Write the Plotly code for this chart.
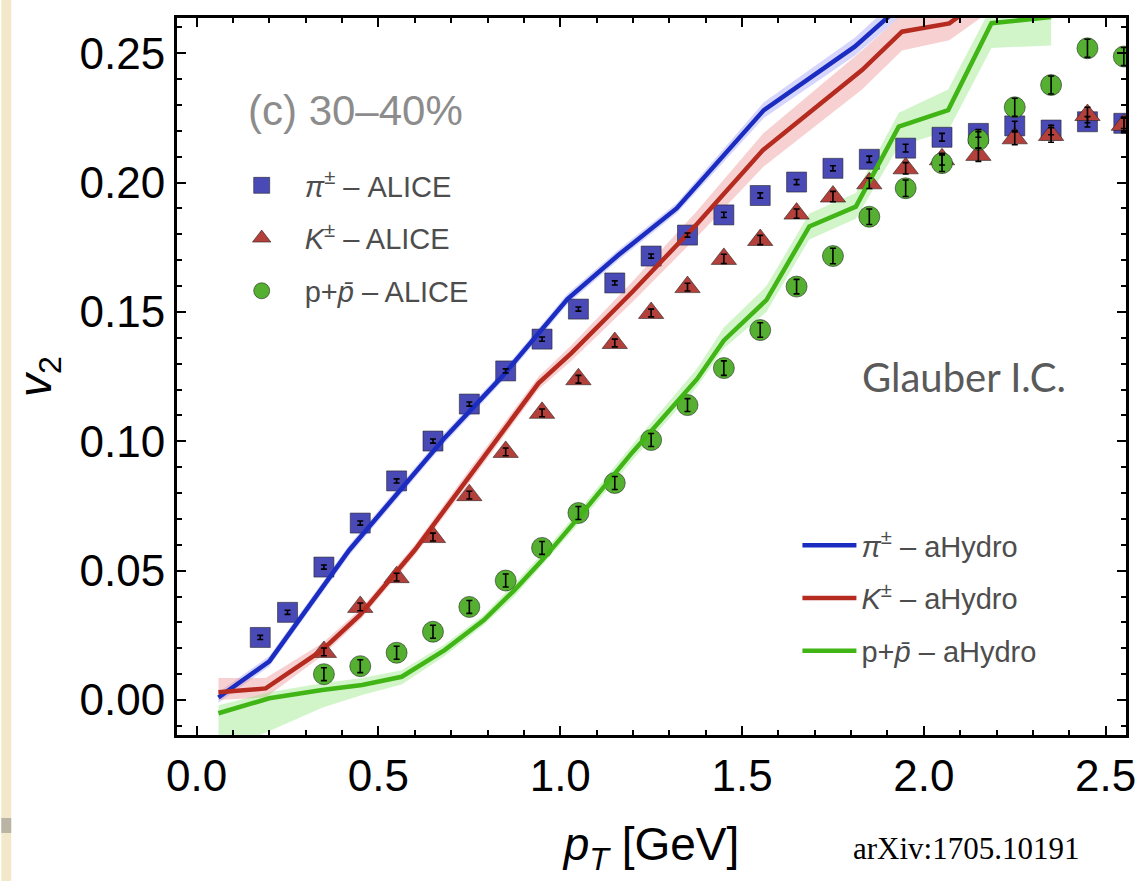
import plotly.graph_objects as go

# ---------------- data ----------------
# ALICE measurements
pt_pi = [0.175, 0.25, 0.35, 0.45, 0.55, 0.65, 0.75, 0.85, 0.95, 1.05, 1.15, 1.25, 1.35,
         1.45, 1.55, 1.65, 1.75, 1.85, 1.95, 2.05, 2.15, 2.25, 2.35, 2.45, 2.55]
v2_pi = [0.0242, 0.0339, 0.0514, 0.0684, 0.0847, 0.1001, 0.1144, 0.1272, 0.1395, 0.1511,
         0.1612, 0.1716, 0.1797, 0.1875, 0.1950, 0.2002, 0.2055, 0.2090, 0.2133, 0.2175,
         0.2190, 0.2219, 0.2203, 0.2235, 0.2229]
err_pi = [0.0008, 0.0008, 0.0008, 0.0008, 0.0008, 0.0008, 0.0008, 0.0008, 0.0008, 0.0008,
          0.0008, 0.0008, 0.0008, 0.0010, 0.0010, 0.0010, 0.0010, 0.0012, 0.0015, 0.0015,
          0.0015, 0.0018, 0.0018, 0.0020, 0.0020]

pt_K = [0.35, 0.45, 0.55, 0.65, 0.75, 0.85, 0.95, 1.05, 1.15, 1.25, 1.35, 1.45, 1.55,
        1.65, 1.75, 1.85, 1.95, 2.05, 2.15, 2.25, 2.35, 2.45, 2.55]
v2_K = [0.0186, 0.0360, 0.0475, 0.0630, 0.0792, 0.0959, 0.1110, 0.1240, 0.1380, 0.1496,
        0.1596, 0.1705, 0.1778, 0.1880, 0.1946, 0.1997, 0.2055, 0.2090, 0.2107, 0.2171,
        0.2184, 0.2261, 0.2223]
err_K = [0.0015, 0.0015, 0.0015, 0.0015, 0.0015, 0.0015, 0.0015, 0.0015, 0.0015, 0.0015,
         0.0015, 0.0018, 0.0018, 0.0018, 0.0020, 0.0020, 0.0022, 0.0022, 0.0025, 0.0025,
         0.0028, 0.0030, 0.0030]

pt_p = [0.35, 0.45, 0.55, 0.65, 0.75, 0.85, 0.95, 1.05, 1.15, 1.25, 1.35, 1.45, 1.55,
        1.65, 1.75, 1.85, 1.95, 2.05, 2.15, 2.25, 2.35, 2.45, 2.55]
v2_p = [0.0100, 0.0131, 0.0183, 0.0264, 0.0360, 0.0462, 0.0588, 0.0723, 0.0839, 0.1005,
        0.1140, 0.1283, 0.1430, 0.1598, 0.1716, 0.1868, 0.1978, 0.2075, 0.2165, 0.2291,
        0.2377, 0.2519, 0.2487]
err_p = [0.0025, 0.0025, 0.0025, 0.0025, 0.0025, 0.0025, 0.0025, 0.0025, 0.0025, 0.0025,
         0.0025, 0.0028, 0.0028, 0.0028, 0.0030, 0.0030, 0.0032, 0.0032, 0.0032, 0.0035,
         0.0035, 0.0035, 0.0035]

# aHydro (Glauber I.C.) curves with uncertainty bands
pt_hyd_pi = [0.06, 0.2, 0.42, 0.68, 0.84, 1.02, 1.16, 1.32, 1.56, 1.81, 1.95]
v2_hyd_pi = [0.001, 0.015, 0.058, 0.101, 0.125, 0.155, 0.172, 0.190, 0.228, 0.2525, 0.270]
lo_hyd_pi = [-0.001, 0.013, 0.056, 0.099, 0.123, 0.153, 0.170, 0.188, 0.225, 0.249, 0.266]
hi_hyd_pi = [0.003, 0.017, 0.060, 0.103, 0.127, 0.157, 0.174, 0.192, 0.231, 0.256, 0.274]

pt_hyd_K = [0.06, 0.19, 0.345, 0.45, 0.60, 0.75, 0.94, 1.03, 1.20, 1.376, 1.558, 1.83, 1.94, 2.07, 2.2]
v2_hyd_K = [0.003, 0.0045, 0.0193, 0.033, 0.058, 0.0865, 0.1224, 0.134, 0.158, 0.184, 0.2126,
            0.2435, 0.2583, 0.2615, 0.275]
lo_hyd_K = [0.000, 0.001, 0.017, 0.031, 0.056, 0.084, 0.120, 0.131, 0.154, 0.179, 0.206,
            0.236, 0.251, 0.255, 0.268]
hi_hyd_K = [0.0085, 0.0085, 0.022, 0.035, 0.060, 0.089, 0.125, 0.137, 0.162, 0.189, 0.219,
            0.251, 0.265, 0.268, 0.282]

pt_hyd_p = [0.06, 0.2, 0.345, 0.455, 0.564, 0.682, 0.79, 0.874, 0.95, 1.05, 1.2, 1.376,
            1.45, 1.567, 1.685, 1.813, 1.931, 2.067, 2.186, 2.35]
v2_hyd_p = [-0.0051, 0.0007, 0.0039, 0.0058, 0.009, 0.0193, 0.0309, 0.0425, 0.054, 0.0705,
            0.096, 0.124, 0.139, 0.1546, 0.183, 0.1907, 0.2216, 0.228, 0.2616, 0.2640]
lo_hyd_p = [-0.020, -0.012, -0.003, 0.002, 0.006, 0.017, 0.029, 0.040, 0.052, 0.068,
            0.093, 0.121, 0.136, 0.150, 0.178, 0.186, 0.214, 0.220, 0.252, 0.253]
hi_hyd_p = [-0.002, 0.003, 0.0065, 0.0085, 0.0115, 0.0215, 0.033, 0.045, 0.0565, 0.073,
            0.099, 0.128, 0.144, 0.160, 0.188, 0.196, 0.227, 0.236, 0.268, 0.270]

x_ticks = [0.0, 0.5, 1.0, 1.5, 2.0, 2.5]
y_ticks = [0.00, 0.05, 0.10, 0.15, 0.20, 0.25]

# ---------------- styling ----------------
W, H = 1148, 881
L, R, T, B = 177, 1133, 18, 735
FONT = "Liberation Sans, Arial, sans-serif"

def px(xp):
    return (xp - L) / (R - L)

def py(yp):
    return (B - yp) / (B - T)

fig = go.Figure()

# bands
bands = [
    (pt_hyd_pi, lo_hyd_pi, hi_hyd_pi, "rgba(120,120,245,0.30)"),
    (pt_hyd_K, lo_hyd_K, hi_hyd_K, "rgba(235,140,140,0.40)"),
    (pt_hyd_p, lo_hyd_p, hi_hyd_p, "rgba(140,230,120,0.40)"),
]
for xs, lo, hi, col in bands:
    fig.add_trace(go.Scatter(x=xs + xs[::-1], y=hi + lo[::-1], fill="toself",
                             fillcolor=col, line=dict(width=0), mode="lines",
                             showlegend=False, hoverinfo="skip"))

# ALICE markers
markers = [
    (pt_pi, v2_pi, err_pi, "square", "#4a4ab6", 20, "<i>π</i><sup>±</sup> – ALICE", "a1"),
    (pt_K, v2_K, err_K, "triangle-up", "#b3403a", 22, "<i>K</i><sup>±</sup> – ALICE", "a2"),
    (pt_p, v2_p, err_p, "circle", "#55b032", 21, "p+<i>p̄</i> – ALICE", "a3"),
]
for xs, ys, es, sym, col, size, name, grp in markers:
    fig.add_trace(go.Scatter(x=xs, y=ys, mode="markers", name=name, legend="legend",
                             legendgroup=grp,
                             marker=dict(symbol=sym, color=col, size=size,
                                         line=dict(color="rgba(30,30,30,0.55)", width=1)),
                             cliponaxis=True))

# aHydro lines
lines = [
    (pt_hyd_pi, v2_hyd_pi, "#1b2cc0", "<i>π</i><sup>±</sup> – aHydro", "h1"),
    (pt_hyd_K, v2_hyd_K, "#b52b20", "<i>K</i><sup>±</sup> – aHydro", "h2"),
    (pt_hyd_p, v2_hyd_p, "#41b515", "p+<i>p̄</i> – aHydro", "h3"),
]
for xs, ys, col, name, grp in lines:
    fig.add_trace(go.Scatter(x=xs, y=ys, mode="lines", name=name, legend="legend2",
                             legendgroup=grp, line=dict(color=col, width=4.5)))

# error bars drawn above the markers
for xs, ys, es, sym, col, size, name, grp in markers:
    fig.add_trace(go.Scatter(x=xs, y=ys, mode="markers", showlegend=False,
                             marker=dict(size=1, opacity=0),
                             error_y=dict(type="data", array=es, color="black",
                                          thickness=1.6, width=3),
                             hoverinfo="skip"))

axis_common = dict(showline=True, linecolor="black", linewidth=3, mirror="ticks",
                   ticks="inside", ticklen=9, tickwidth=2, tickcolor="black",
                   showgrid=False, zeroline=False,
                   tickfont=dict(family=FONT, size=44, color="black"))

fig.update_layout(
    width=W, height=H,
    margin=dict(l=L, r=W - R, t=T, b=H - B),
    plot_bgcolor="white", paper_bgcolor="white",
    xaxis=dict(range=[-0.054, 2.556], tickvals=x_ticks, tickformat=".1f",
               minor=dict(dtick=0.1, tick0=0, ticks="inside", ticklen=5, tickwidth=2,
                          tickcolor="black"),
               title=dict(text="<i>p</i><sub><i>T</i></sub> [GeV]", standoff=30,
                          font=dict(family=FONT, size=46, color="black")),
               **axis_common),
    yaxis=dict(range=[-0.0135, 0.2636], tickvals=y_ticks, tickformat=".2f",
               minor=dict(dtick=0.01, tick0=0, ticks="inside", ticklen=5, tickwidth=2,
                          tickcolor="black"),
               title=dict(text="<i>v</i><sub>2</sub>", standoff=14,
                          font=dict(family=FONT, size=46, color="black")),
               **axis_common),
    legend=dict(x=px(219), y=py(160), xanchor="left", yanchor="top",
                bgcolor="rgba(0,0,0,0)", tracegroupgap=12, traceorder="grouped",
                itemwidth=76,
                font=dict(family=FONT, size=29, color="#4d4d4d")),
    legend2=dict(x=px(802), y=py(520), xanchor="left", yanchor="top",
                 bgcolor="rgba(0,0,0,0)", tracegroupgap=12, traceorder="grouped",
                 itemwidth=54,
                 font=dict(family=FONT, size=29, color="#4d4d4d")),
    showlegend=True,
)

# page decorations (left paper strip)
fig.add_shape(type="rect", xref="paper", yref="paper", x0=px(0), x1=px(10),
              y0=py(H), y1=py(0), fillcolor="#f3e8c9", line=dict(width=0), layer="below")
fig.add_shape(type="rect", xref="paper", yref="paper", x0=px(0), x1=px(10),
              y0=py(833), y1=py(818), fillcolor="#b9b4a3", line=dict(width=0), layer="below")

fig.add_annotation(text="(c) 30–40%", xref="paper", yref="paper", x=px(247), y=py(110),
                   xanchor="left", yanchor="middle", showarrow=False,
                   font=dict(family=FONT, size=42, color="#8c8c8c"))
fig.add_annotation(text="Glauber I.C.", xref="paper", yref="paper", x=px(970), y=py(377),
                   xanchor="center", yanchor="middle", showarrow=False,
                   font=dict(family="Lato, sans-serif", size=40, color="#5a5a5a"))
fig.add_annotation(text="arXiv:1705.10191", xref="paper", yref="paper", x=px(972), y=py(848),
                   xanchor="center", yanchor="middle", showarrow=False,
                   font=dict(family="Liberation Serif, Times New Roman, serif", size=31,
                             color="black"))

fig.write_html("out.html", config={"displayModeBar": False},
               post_script="document.body.style.margin='0px';")
